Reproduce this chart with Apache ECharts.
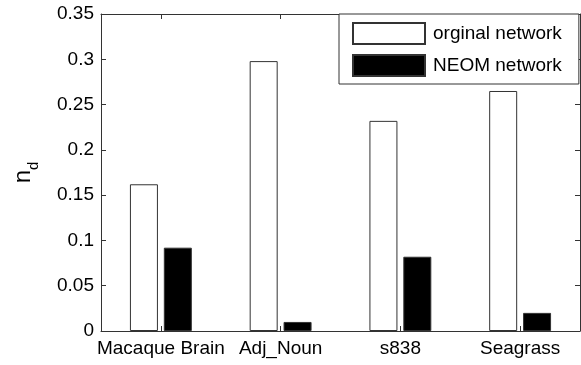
<!DOCTYPE html>
<html>
<head>
<meta charset="utf-8">
<script src="https://cdn.jsdelivr.net/npm/echarts@6/dist/echarts.min.js"></script>
<style>
html,body{margin:0;padding:0;background:#fff;}
#chart{width:581px;height:365px;}
</style>
</head>
<body>
<div id="chart"></div>
<script>
var categories = ['Macaque Brain', 'Adj_Noun', 's838', 'Seagrass'];
var originalValues = [0.162, 0.298, 0.232, 0.265];
var neomValues = [0.092, 0.010, 0.082, 0.020];
var seriesNames = ['orginal network', 'NEOM network'];
var yMin = 0, yMax = 0.35, yStep = 0.05;

var FONT = '"Liberation Sans", Arial, Helvetica, sans-serif';
var AX = '#333';
var chart = echarts.init(document.getElementById('chart'), null, {renderer: 'canvas'});

var yBase = {
  type: 'value', min: yMin, max: yMax, interval: yStep,
  splitLine: {show: false},
  axisLine: {show: true, lineStyle: {color: AX, width: 1}},
  axisTick: {show: true, inside: true, length: 5, lineStyle: {color: AX}}
};
var xBase = {
  type: 'category', data: categories, boundaryGap: true,
  axisLine: {show: true, onZero: false, lineStyle: {color: AX, width: 1}},
  axisTick: {show: true, inside: true, alignWithLabel: true, length: 5, lineStyle: {color: AX}}
};

chart.setOption({
  animation: false,
  backgroundColor: '#fff',
  textStyle: {fontFamily: FONT},
  grid: {left: 101, right: 1, top: 14, bottom: 34, containLabel: false},
  legend: {
    orient: 'vertical', left: 339, top: 14,
    padding: [8, 17, 7, 13],
    itemWidth: 72, itemHeight: 21, itemGap: 9,
    borderColor: AX, borderWidth: 1, backgroundColor: '#fff',
    icon: 'rect',
    textStyle: {fontSize: 19, color: '#000', fontFamily: FONT, padding: [0, 0, 0, 3]},
    data: seriesNames
  },
  xAxis: [
    Object.assign({}, xBase, {
      position: 'bottom',
      axisLabel: {fontSize: 19, color: '#000', margin: 8, fontFamily: FONT, interval: 0}
    }),
    Object.assign({}, xBase, {
      position: 'top',
      axisLabel: {show: false}
    })
  ],
  yAxis: [
    Object.assign({}, yBase, {
      position: 'left',
      axisLabel: {
        fontSize: 19, color: '#000', margin: 7, fontFamily: FONT,
        formatter: function (v) { return String(+v.toFixed(2)); }
      },
      name: '{n|n}{d|d}',
      nameLocation: 'middle',
      nameGap: 60,
      nameTextStyle: {
        rich: {
          n: {fontSize: 24, color: '#000', fontFamily: FONT, verticalAlign: 'bottom', padding: [0, 0, 6, 0]},
          d: {fontSize: 15, color: '#000', fontFamily: FONT, verticalAlign: 'bottom'}
        }
      }
    }),
    Object.assign({}, yBase, {
      position: 'right',
      axisLabel: {show: false}
    })
  ],
  series: [
    {
      name: seriesNames[0], type: 'bar', xAxisIndex: 0, yAxisIndex: 0,
      data: originalValues, barWidth: 28, barGap: '21%',
      itemStyle: {color: '#fff', borderColor: AX, borderWidth: 1}
    },
    {
      name: seriesNames[1], type: 'bar', xAxisIndex: 0, yAxisIndex: 0,
      data: neomValues, barWidth: 28, barGap: '21%',
      itemStyle: {color: '#000', borderColor: AX, borderWidth: 1}
    }
  ]
});
</script>
</body>
</html>
